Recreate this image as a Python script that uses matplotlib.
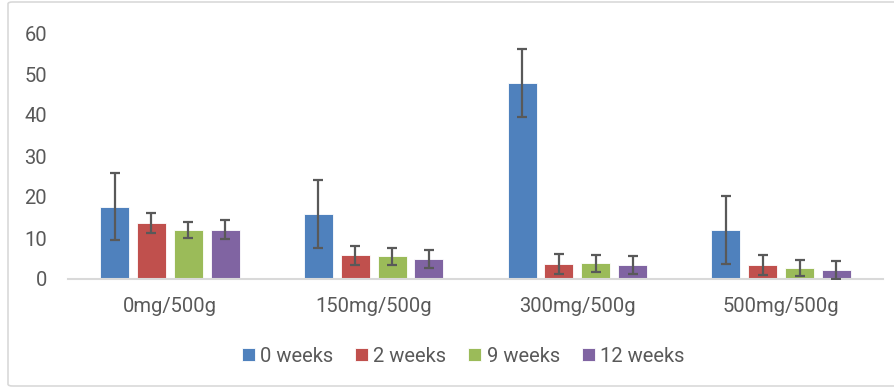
import matplotlib
matplotlib.use("Agg")
import matplotlib.pyplot as plt
from matplotlib.patches import FancyBboxPatch
import numpy as np

categories = ["0mg/500g", "150mg/500g", "300mg/500g", "500mg/500g"]
series_names = ["0 weeks", "2 weeks", "9 weeks", "12 weeks"]
w0 = [17.6, 15.8, 47.7, 12.0]
w2 = [13.6, 5.8, 3.6, 3.4]
w9 = [11.9, 5.5, 3.8, 2.7]
w12 = [12.0, 4.9, 3.3, 2.2]
e0 = [8.2, 8.3, 8.3, 8.3]
e2 = [2.4, 2.3, 2.5, 2.4]
e9 = [2.0, 2.0, 2.1, 2.0]
e12 = [2.3, 2.2, 2.2, 2.2]
yticks = [0, 10, 20, 30, 40, 50, 60]

colors = ["#4F81BD", "#C0504D", "#9BBB59", "#8064A2"]
plt.rcParams['font.family'] = ['Roboto', 'DejaVu Sans']
fig = plt.figure(figsize=(8.95, 3.92), dpi=100)
ax = fig.add_axes([68/895, 1-279/392, 815/895, 246/392])

x = np.arange(len(categories))
pitch = 0.181
width = 0.142
vals = [w0, w2, w9, w12]
errs = [e0, e2, e9, e12]
for i, (v, e) in enumerate(zip(vals, errs)):
    pos = x + (i - 1.5) * pitch
    ax.bar(pos, v, width, color=colors[i], label=series_names[i],
           edgecolor='white', linewidth=0.6, zorder=2)
    ax.errorbar(pos, v, yerr=e, fmt='none', ecolor='#595959', elinewidth=1.6,
                capsize=3.8, capthick=1.6, zorder=3)

ax.set_xlim(-0.5, 3.5)
ax.set_ylim(0, 60)
ax.set_yticks(yticks)
ax.set_xticks(x)
ax.set_xticklabels(categories)
for s in ['top', 'right', 'left']:
    ax.spines[s].set_visible(False)
ax.spines['bottom'].set_color('#D9D9D9')
ax.spines['bottom'].set_linewidth(1.5)
ax.tick_params(axis='both', length=0, labelsize=14.5, colors='#595959')
ax.tick_params(axis='y', pad=15)
ax.tick_params(axis='x', pad=13)

leg = fig.legend(loc='center', bbox_to_anchor=(463/895, 1-356/392), ncol=4,
                 frameon=False, fontsize=14.5, handlelength=0.65, handleheight=0.65,
                 handletextpad=0.25, columnspacing=1.1)
for t in leg.get_texts():
    t.set_color('#595959')

border = FancyBboxPatch((8/895, 6/392), 1.0, 1 - 6/392 - 2/392,
                        boxstyle="round,pad=0,rounding_size=0.005",
                        transform=fig.transFigure, fill=False,
                        edgecolor='#D9D9D9', linewidth=1.2)
fig.patches.append(border)

fig.savefig("out.png", dpi=100)
